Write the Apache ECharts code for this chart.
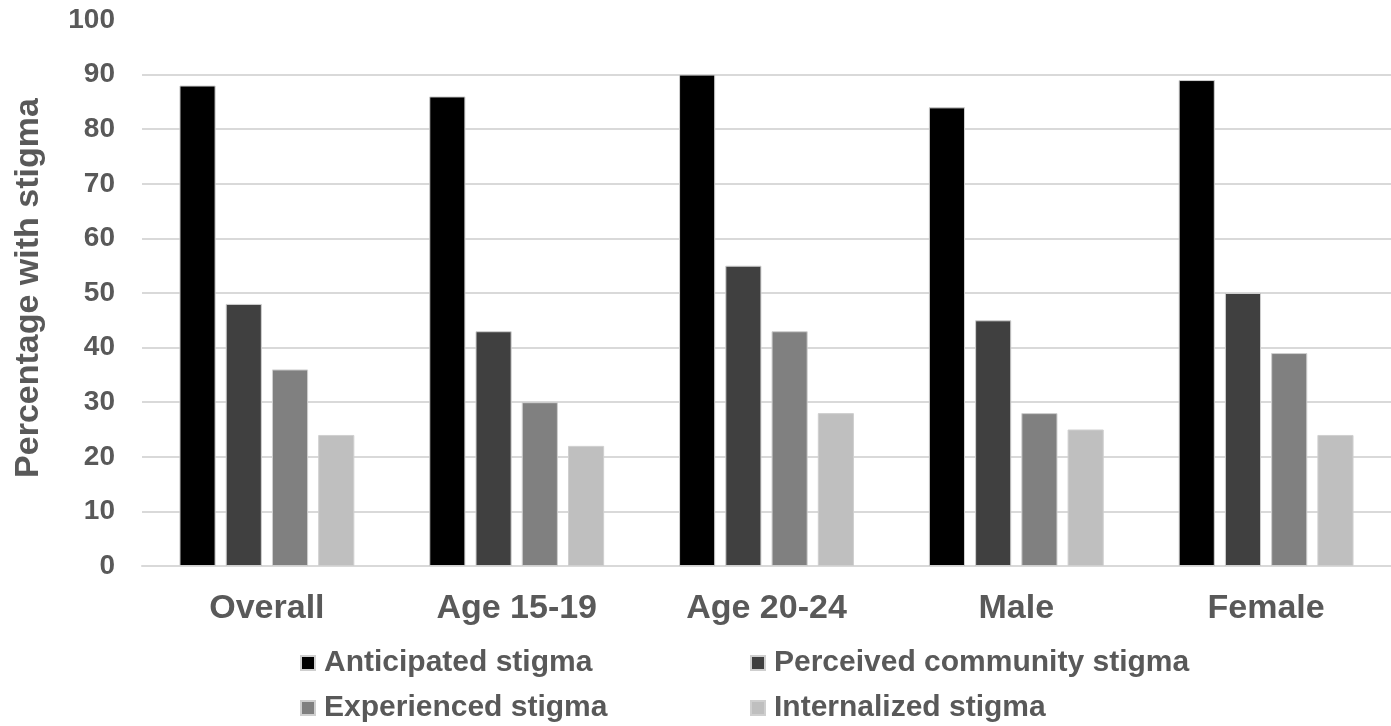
<!DOCTYPE html>
<html>
<head>
<meta charset="utf-8">
<title>Percentage with stigma</title>
<script src="https://cdn.jsdelivr.net/npm/echarts@6/dist/echarts.min.js"></script>
<style>
  html, body { margin: 0; padding: 0; background: #ffffff; }
  #chart { width: 1391px; height: 726px; }
</style>
</head>
<body>
<div id="chart"></div>
<script>
// Groups along the x axis
const categories = ['Overall', 'Age 15-19', 'Age 20-24', 'Male', 'Female'];

// Percentage reporting each type of stigma, per group
const anticipated = [88, 86, 90, 84, 89];
const perceivedCommunity = [48, 43, 55, 45, 50];
const experienced = [36, 30, 43, 28, 39];
const internalized = [24, 22, 28, 25, 24];

const seriesNames = ['Anticipated stigma', 'Perceived community stigma', 'Experienced stigma', 'Internalized stigma'];
const seriesValues = [anticipated, perceivedCommunity, experienced, internalized];
const seriesColors = ['#000000', '#404040', '#808080', '#bfbfbf'];

const FONT = '"Liberation Sans", Arial, Helvetica, sans-serif';
const TEXT_COLOR = '#595959';

const chart = echarts.init(document.getElementById('chart'), null, { renderer: 'canvas' });

// One legend block per entry so the 2x2 layout sits in fixed columns
const legendSlots = [
  { left: 300, top: 648 },
  { left: 750, top: 648 },
  { left: 300, top: 693 },
  { left: 750, top: 693 }
];

chart.setOption({
  backgroundColor: '#ffffff',
  animation: false,
  grid: {
    left: 142, right: 0, top: 20, height: 546,
    containLabel: false,
    outerBoundsMode: 'none'
  },
  legend: seriesNames.map((name, i) => ({
    data: [name],
    left: legendSlots[i].left,
    top: legendSlots[i].top,
    padding: 0,
    icon: 'rect',
    itemWidth: 14,
    itemHeight: 14,
    selectedMode: false,
    textStyle: {
      fontFamily: FONT,
      fontWeight: 'bold',
      fontSize: 30,
      color: TEXT_COLOR,
      padding: [0, 0, 0, 4]
    }
  })),
  xAxis: {
    type: 'category',
    data: categories,
    axisLine: { show: true, lineStyle: { color: '#d9d9d9', width: 2 } },
    axisTick: { show: false },
    axisLabel: {
      fontFamily: FONT,
      fontWeight: 'bold',
      fontSize: 34,
      color: TEXT_COLOR,
      margin: 26
    }
  },
  yAxis: {
    type: 'value',
    min: 0,
    max: 100,
    interval: 10,
    name: 'Percentage with stigma',
    nameLocation: 'middle',
    nameRotate: 90,
    nameGap: 96,
    nameMoveOverlap: false,
    nameTextStyle: {
      fontFamily: FONT,
      fontWeight: 'bold',
      fontSize: 34,
      color: TEXT_COLOR,
      padding: [0, 0, 0, 10]
    },
    axisLine: { show: false },
    axisTick: { show: false },
    axisLabel: {
      fontFamily: FONT,
      fontWeight: 'bold',
      fontSize: 28,
      color: TEXT_COLOR,
      margin: 27
    },
    splitLine: {
      show: true,
      showMaxLine: false,
      lineStyle: { color: '#d9d9d9', width: 2 }
    }
  },
  series: seriesNames.map((name, i) => ({
    name: name,
    type: 'bar',
    data: seriesValues[i],
    barGap: '28%',
    barCategoryGap: '30%',
    itemStyle: {
      color: seriesColors[i],
      borderColor: '#cfcfcf',
      borderWidth: 1
    }
  }))
});
</script>
</body>
</html>
